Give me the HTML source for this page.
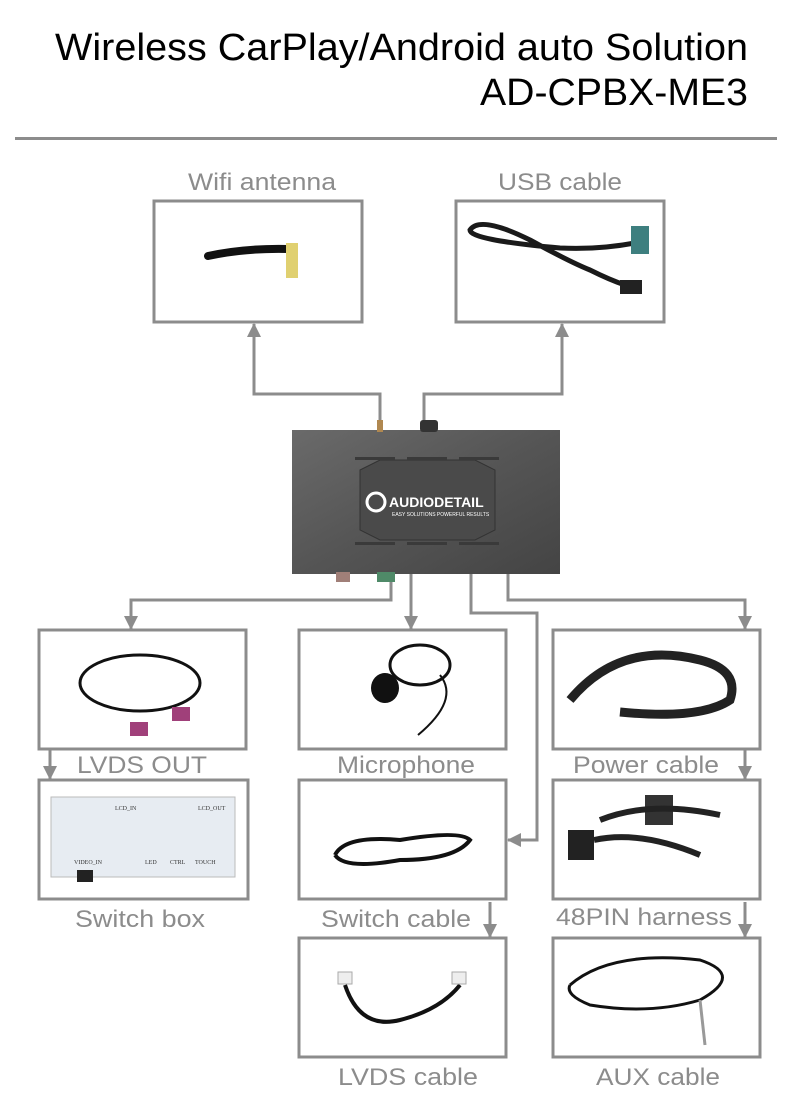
<!DOCTYPE html>
<html><head><meta charset="utf-8"><style>
html,body{margin:0;padding:0;background:#fff;}
svg{display:block;font-family:"Liberation Sans",Arial,sans-serif;}
</style></head><body>
<svg width="800" height="1106" viewBox="0 0 800 1106" xmlns="http://www.w3.org/2000/svg">
<defs>
<marker id="a" markerWidth="14" markerHeight="14" refX="13" refY="7" orient="auto" markerUnits="userSpaceOnUse" viewBox="0 0 14 14"><path d="M0,0 L14,7 L0,14z" fill="#8c8c8c"/></marker>
<linearGradient id="dev" x1="0" y1="0" x2="1" y2="1"><stop offset="0" stop-color="#6a6a6a"/><stop offset="0.5" stop-color="#555"/><stop offset="1" stop-color="#444"/></linearGradient>
</defs>
<text x="748" y="60" text-anchor="end" font-size="38" textLength="693" lengthAdjust="spacingAndGlyphs" fill="#000">Wireless CarPlay/Android auto Solution</text>
<text x="748" y="105" text-anchor="end" font-size="38" textLength="268" lengthAdjust="spacingAndGlyphs" fill="#000">AD-CPBX-ME3</text>
<rect x="15" y="137" width="762" height="3" fill="#8c8c8c"/>

<g font-size="24" fill="#8c8c8c" text-anchor="middle">
<text x="262" y="190" textLength="148" lengthAdjust="spacingAndGlyphs">Wifi antenna</text>
<text x="560" y="190" textLength="124" lengthAdjust="spacingAndGlyphs">USB cable</text>
<text x="142" y="773" textLength="130" lengthAdjust="spacingAndGlyphs">LVDS OUT</text>
<text x="406" y="773" textLength="138" lengthAdjust="spacingAndGlyphs">Microphone</text>
<text x="646" y="773" textLength="146" lengthAdjust="spacingAndGlyphs">Power cable</text>
<text x="140" y="927" textLength="130" lengthAdjust="spacingAndGlyphs">Switch box</text>
<text x="396" y="927" textLength="150" lengthAdjust="spacingAndGlyphs">Switch cable</text>
<text x="644" y="925" textLength="176" lengthAdjust="spacingAndGlyphs">48PIN harness</text>
<text x="408" y="1085" textLength="140" lengthAdjust="spacingAndGlyphs">LVDS cable</text>
<text x="658" y="1085" textLength="124" lengthAdjust="spacingAndGlyphs">AUX cable</text>
</g>

<g fill="#fff" stroke="#8c8c8c" stroke-width="3">
<rect x="154" y="201" width="208" height="121"/>
<rect x="456" y="201" width="208" height="121"/>
<rect x="39" y="630" width="207" height="119"/>
<rect x="299" y="630" width="207" height="119"/>
<rect x="553" y="630" width="207" height="119"/>
<rect x="39" y="780" width="209" height="119"/>
<rect x="299" y="780" width="207" height="119"/>
<rect x="553" y="780" width="207" height="119"/>
<rect x="299" y="938" width="207" height="119"/>
<rect x="553" y="938" width="207" height="119"/>
</g>

<g fill="none" stroke="#8c8c8c" stroke-width="3">
<path d="M380,424 V394 H254 V324" marker-end="url(#a)"/>
<path d="M424,422 V394 H562 V324" marker-end="url(#a)"/>
<path d="M391,574 V600 H131 V629" marker-end="url(#a)"/>
<path d="M411,574 V629" marker-end="url(#a)"/>
<path d="M471,574 V613 H537 V840 H508" marker-end="url(#a)"/>
<path d="M508,574 V600 H745 V629" marker-end="url(#a)"/>
<path d="M50,749 V779" marker-end="url(#a)"/>
<path d="M745,749 V779" marker-end="url(#a)"/>
<path d="M745,902 V937" marker-end="url(#a)"/>
<path d="M490,902 V937" marker-end="url(#a)"/>
</g>

<!-- device -->
<rect x="292" y="430" width="268" height="144" fill="url(#dev)"/>
<rect x="377" y="420" width="6" height="12" fill="#b08850"/>
<rect x="420" y="420" width="18" height="12" rx="3" fill="#333"/>
<rect x="336" y="572" width="14" height="10" fill="#a07f78"/>
<rect x="377" y="572" width="18" height="10" fill="#4f8a68"/>
<polygon points="360,470 380,460 475,460 495,470 495,530 475,540 380,540 360,530" fill="#4a4a4a" stroke="#333"/>
<circle cx="376" cy="502" r="9" fill="none" stroke="#fff" stroke-width="3"/>
<text x="389" y="507" font-size="14" font-weight="bold" fill="#fff">AUDIODETAIL</text>
<text x="392" y="516" font-size="5" fill="#fff">EASY SOLUTIONS  POWERFUL RESULTS</text>
<g fill="#3a3a3a">
<rect x="355" y="457" width="40" height="3"/><rect x="407" y="457" width="40" height="3"/><rect x="459" y="457" width="40" height="3"/>
<rect x="355" y="542" width="40" height="3"/><rect x="407" y="542" width="40" height="3"/><rect x="459" y="542" width="40" height="3"/>
</g>

<!-- wifi antenna -->
<path d="M208,256 Q245,248 288,249" stroke="#111" stroke-width="8" stroke-linecap="round" fill="none"/>
<rect x="286" y="243" width="12" height="35" fill="#e0d070"/>
<!-- usb cable -->
<path d="M640,242 Q600,250 560,248 Q470,240 470,230 Q480,215 530,240 Q570,262 590,270 Q610,280 625,285" stroke="#1a1a1a" stroke-width="5" fill="none"/>
<rect x="631" y="226" width="18" height="28" fill="#3e7f7f"/>
<rect x="620" y="280" width="22" height="14" fill="#222"/>

<!-- lvds out -->
<ellipse cx="140" cy="683" rx="60" ry="28" fill="none" stroke="#111" stroke-width="3"/>
<rect x="172" y="707" width="18" height="14" fill="#a0407a"/>
<rect x="130" y="722" width="18" height="14" fill="#a0407a"/>
<!-- microphone -->
<ellipse cx="420" cy="665" rx="30" ry="20" fill="none" stroke="#111" stroke-width="3"/>
<ellipse cx="385" cy="688" rx="14" ry="15" fill="#111"/>
<path d="M440,675 Q460,700 418,735" stroke="#111" stroke-width="2" fill="none"/>
<!-- power cable -->
<path d="M570,700 Q620,640 700,660 Q740,670 730,700 Q700,720 620,712" stroke="#222" stroke-width="9" fill="none"/>
<!-- switch box -->
<rect x="51" y="797" width="184" height="80" fill="#e7ecf2" stroke="#bbb"/>
<rect x="77" y="870" width="16" height="12" fill="#222"/>
<g font-size="6" fill="#333" font-family="Liberation Serif,serif"><text x="74" y="864">VIDEO_IN</text><text x="145" y="864">LED</text><text x="170" y="864">CTRL</text><text x="195" y="864">TOUCH</text><text x="115" y="810">LCD_IN</text><text x="198" y="810">LCD_OUT</text></g>
<!-- switch cable -->
<path d="M335,855 Q345,835 400,840 Q460,830 470,840 Q455,860 400,860 Q345,870 335,855" stroke="#111" stroke-width="4" fill="none"/>
<!-- 48pin -->
<rect x="568" y="830" width="26" height="30" fill="#222"/>
<rect x="645" y="795" width="28" height="30" fill="#333"/>
<path d="M594,840 Q640,830 700,855 M600,820 Q650,800 720,815" stroke="#222" stroke-width="6" fill="none"/>
<!-- lvds cable -->
<path d="M345,985 Q360,1030 400,1020 Q440,1010 460,985" stroke="#111" stroke-width="4" fill="none"/>
<rect x="338" y="972" width="14" height="12" fill="#eee" stroke="#aaa"/>
<rect x="452" y="972" width="14" height="12" fill="#eee" stroke="#aaa"/>
<!-- aux -->
<path d="M570,985 Q610,950 700,960 Q745,975 700,1000 Q650,1015 590,1005 Q565,995 570,985" stroke="#111" stroke-width="3" fill="none"/>
<path d="M700,1000 L705,1045" stroke="#999" stroke-width="3"/>
</svg>
</body></html>
